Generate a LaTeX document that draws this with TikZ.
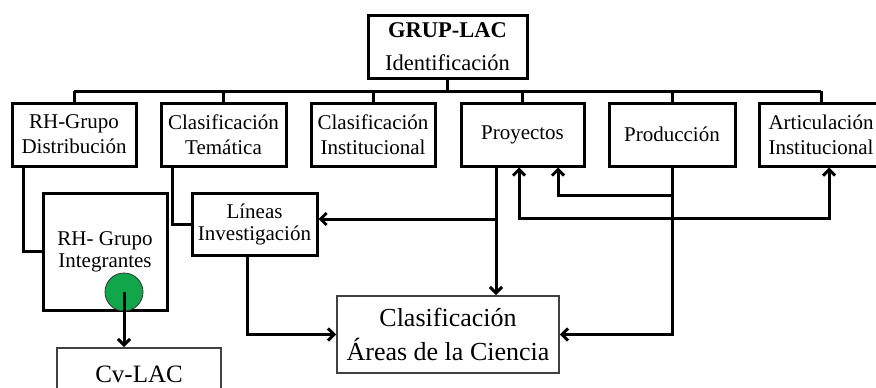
\documentclass[tikz,border=0pt]{standalone}
\usepackage{fontspec}
\setmainfont{Liberation Serif}
\usetikzlibrary{arrows.meta}
\definecolor{dotgreen}{HTML}{12A64B}
\begin{document}
\begin{tikzpicture}[x=1pt,y=-1pt,
    box/.style={draw,line width=3pt,align=center,inner sep=0pt,minimum height=63pt,font=\fontsize{21}{25}\selectfont},
    thinbox/.style={draw=black!75,line width=1.8pt,align=center,inner sep=0pt},
    lnk/.style={line width=3pt},
    tip/.tip={Straight Barb[length=6pt,width=12pt]},
    arr/.style={lnk,-tip},
    both/.style={lnk,tip-tip}]
                \clip (0,0) rectangle (876,388);
                \node[box,minimum width=159pt,font=\fontsize{22.5}{33}\selectfont] (grup) at (447.5,46.5) {\textbf{GRUP-LAC}\\Identificación};
                \node[box,minimum width=124pt] (rhd) at (74,134.5) {RH-Grupo\\Distribución};
                \node[box,minimum width=125pt] (clt) at (223.5,134.5) {Clasificación\\Temática};
                \node[box,minimum width=124pt] (cli) at (373,134.5) {Clasificación\\Institucional};
                \node[box,minimum width=123pt] (proy) at (522.5,134.5) {Proyectos};
                \node[box,minimum width=126pt] (prod) at (672,134.5) {Producción};
                \node[box,minimum width=124pt] (art) at (821,134.5) {Articulación\\Institucional};
                \node[box,minimum width=124pt,minimum height=117pt,font=\fontsize{21}{22}\selectfont] (rhi) at (105,251.5) {RH- Grupo\\Integrantes};
                \node[box,minimum width=125pt,minimum height=62pt,font=\fontsize{21}{22}\selectfont] (lin) at (254.5,224) {Líneas\\Investigación};
                \node[thinbox,minimum width=222pt,minimum height=77pt,font=\fontsize{26}{34}\selectfont] (areas) at (448,334.5) {Clasificación\\Áreas de la Ciencia};
                \node[thinbox,minimum width=164pt,minimum height=52pt,font=\fontsize{25}{30}\selectfont] (cv) at (139,374) {Cv-LAC};
                \node[circle,draw=black!80,line width=0.8pt,fill=dotgreen,minimum size=38pt,inner sep=0pt] (dot) at (124,292) {};
                \coordinate (bus) at (447.5,91);
                \coordinate (pl) at (496,219);
                \coordinate (pk) at (672,195);
                \coordinate (lp) at (519,218);
                \coordinate (la) at (829,218);
                \draw[lnk] (grup.south) -- (bus);
                \draw[lnk] (rhd.north |- bus) -- (art.north |- bus);
                \foreach \n in {rhd,clt,cli,proy,prod,art}
                    \draw[lnk] (\n.north) -- (\n.north |- bus);
                \draw[lnk] ([xshift=13pt]rhd.south west) |- (rhi.west);
                \draw[lnk] ([xshift=13pt]clt.south west) |- (lin.west);
                \draw[arr] (dot.center) -- (dot.center |- cv.north);
                \draw[arr] ([xshift=-7.5pt]lin.south) |- (areas.west);
                \draw[arr] ([xshift=-26.5pt]proy.south) -- ([xshift=-26.5pt]proy.south |- areas.north);
                \draw[arr] (pl) -- ([yshift=5pt]lin.east);
                \draw[arr] (prod.south) |- (areas.east);
                \draw[arr] (pk) -| ([xshift=35.5pt]proy.south);
                \draw[both] (proy.south -| lp) -- (lp) -- (la) -- (art.south -| la);
\end{tikzpicture}
\end{document}
